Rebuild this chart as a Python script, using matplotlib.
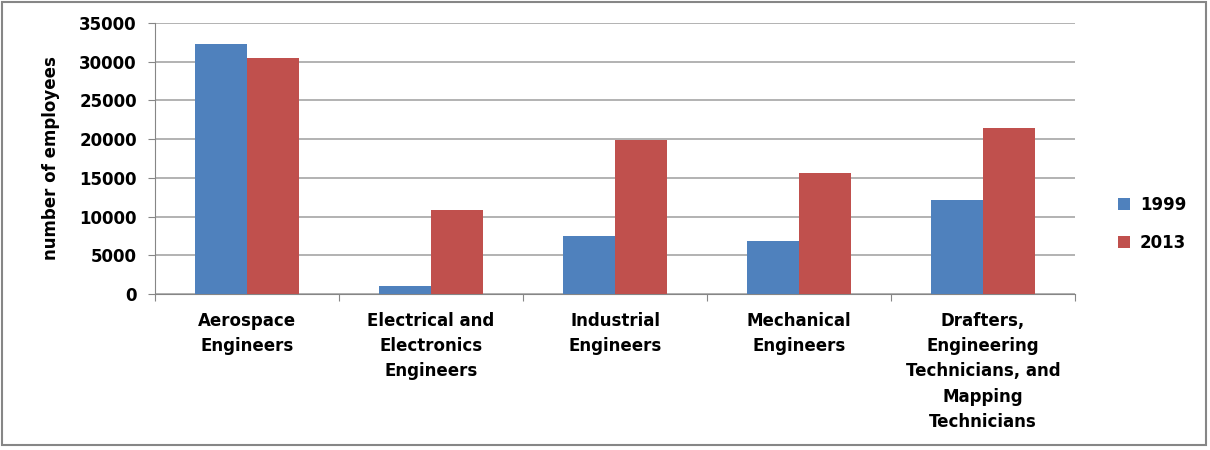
import matplotlib.pyplot as plt
import numpy as np
from matplotlib.patches import Rectangle

categories = ['Aerospace\nEngineers', 'Electrical and\nElectronics\nEngineers',
              'Industrial\nEngineers', 'Mechanical\nEngineers',
              'Drafters,\nEngineering\nTechnicians, and\nMapping\nTechnicians']
years = ['1999', '2013']
vals_1999 = [32300, 1000, 7450, 6800, 12100]
vals_2013 = [30500, 10900, 19950, 15650, 21400]
colors = ['#4f81bd', '#c0504d']
yticks = [0, 5000, 10000, 15000, 20000, 25000, 30000, 35000]

plt.rcParams['font.family'] = ['DejaVu Sans']
plt.rcParams['font.weight'] = 'bold'

fig = plt.figure(figsize=(12.1, 4.5), dpi=100)
ax = fig.add_axes([155/1210, 1-294/450, 920/1210, 271/450])

x = np.arange(len(categories))
w = 0.283
ax.bar(x - w/2, vals_1999, w, color=colors[0], label=years[0], zorder=3)
ax.bar(x + w/2, vals_2013, w, color=colors[1], label=years[1], zorder=3)

ax.set_xlim(-0.5, len(categories) - 0.5)
ax.set_ylim(0, 35000)
ax.set_yticks(yticks)
ax.set_yticklabels([str(t) for t in yticks], fontsize=12, fontweight='bold')
ax.yaxis.grid(True, color='#a6a6a6', linewidth=1.2, zorder=0)
ax.set_ylabel('number of employees', fontsize=12, fontweight='bold', labelpad=14)

ax.set_xticks(np.arange(len(categories) + 1) - 0.5)
ax.set_xticklabels([])
ax.tick_params(axis='x', length=5, color='#868686')
ax.tick_params(axis='y', length=5, color='#868686', pad=8)
for i, c in enumerate(categories):
    ax.text(i, -2300, c, ha='center', va='top', fontsize=12,
            fontweight='bold', linespacing=1.52)

for s in ['top', 'right']:
    ax.spines[s].set_visible(False)
for s in ['left', 'bottom']:
    ax.spines[s].set_color('#868686')

ax.legend(loc='center left', bbox_to_anchor=(1.03, 0.26), frameon=False,
          handlelength=0.75, handleheight=0.75, labelspacing=1.2,
          handletextpad=0.6, prop={'weight': 'bold', 'size': 12})

fig.patches.append(Rectangle((2/1210, 5/450), 1204/1210, 443/450,
                             transform=fig.transFigure, fill=False,
                             edgecolor='#868686', linewidth=1.5))

fig.savefig('out.png', dpi=100)
